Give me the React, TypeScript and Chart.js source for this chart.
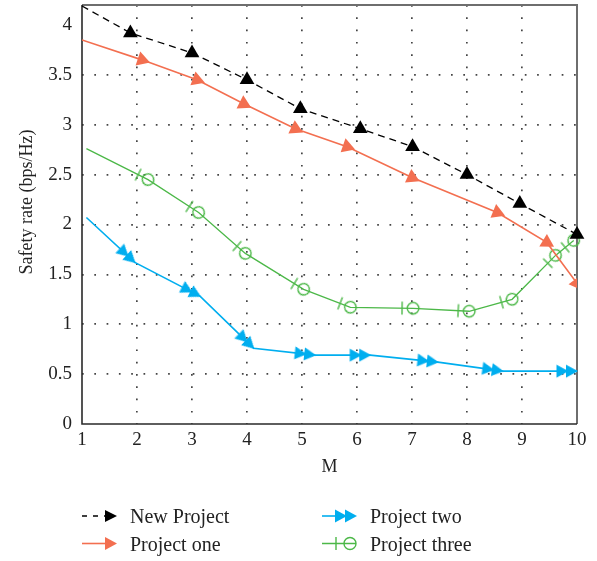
import React, { useEffect, useRef } from 'react';
import { Chart, registerables } from 'chart.js';

Chart.register(...registerables);

const xTicks = [1, 2, 3, 4, 5, 6, 7, 8, 9, 10];
const yTicks = [0, 0.5, 1, 1.5, 2, 2.5, 3, 3.5, 4];
const seriesNames = ['New Project', 'Project one', 'Project two', 'Project three'];

const newProjectX = [1, 1.88, 3, 4, 4.97, 6.06, 7.01, 8, 8.96, 10];
const newProjectY = [4.19, 3.92, 3.72, 3.45, 3.16, 2.96, 2.78, 2.5, 2.21, 1.9];
const projectOneX = [1, 2.09, 3.09, 3.94, 4.88, 5.82, 7.0, 8.55, 9.45, 10];
const projectOneY = [3.85, 3.65, 3.45, 3.21, 2.96, 2.78, 2.47, 2.12, 1.82, 1.41];
const projectTwoX = [1.08, 1.96, 3.15, 4.12, 5.24, 6.24, 7.47, 8.65, 10];
const projectTwoY = [2.07, 1.62, 1.28, 0.76, 0.69, 0.69, 0.62, 0.53, 0.53];
const projectThreeX = [1.08, 2.2, 3.12, 3.97, 5.03, 5.88, 7.02, 8.04, 8.82, 9.61, 9.94];
const projectThreeY = [2.76, 2.45, 2.12, 1.71, 1.35, 1.17, 1.16, 1.13, 1.25, 1.69, 1.84];

const BLACK = '#000000';
const ORANGE = '#F36F50';
const BLUE = '#00AEEF';
const GREEN = '#4CB848';
const FONT = "'Liberation Serif', 'Times New Roman', serif";

function pts(xs: number[], ys: number[]) {
  return xs.map((x, i) => ({ x, y: ys[i] }));
}

function segAngle(ctx: any): number {
  const chart = ctx.chart;
  const data = ctx.dataset.data;
  const i = ctx.dataIndex;
  const xs = chart.scales && chart.scales.x;
  const ys = chart.scales && chart.scales.y;
  if (!xs || !ys || !data || data.length < 2) return 0;
  const a = data[i > 0 ? i - 1 : 0];
  const b = data[i > 0 ? i : 1];
  const dx = xs.getPixelForValue(b.x) - xs.getPixelForValue(a.x);
  const dy = ys.getPixelForValue(b.y) - ys.getPixelForValue(a.y);
  const ang = (Math.atan2(dy, dx) * 180) / Math.PI;
  return isFinite(ang) ? ang : 0;
}

function makeDoubleArrow(color: string) {
  const c = document.createElement('canvas');
  c.width = 44;
  c.height = 18;
  const g = c.getContext('2d')!;
  g.fillStyle = color;
  const cy = 9;
  const tri = (tip: number) => {
    g.beginPath();
    g.moveTo(tip, cy);
    g.lineTo(tip - 12, cy - 6.5);
    g.lineTo(tip - 12, cy + 6.5);
    g.closePath();
    g.fill();
  };
  tri(23);
  tri(13.5);
  return c;
}

function makeTickCircle(color: string) {
  const c = document.createElement('canvas');
  c.width = 38;
  c.height = 20;
  const g = c.getContext('2d')!;
  g.strokeStyle = color;
  g.lineWidth = 1.4;
  g.beginPath();
  g.moveTo(8, 3.5);
  g.lineTo(8, 16.5);
  g.stroke();
  g.beginPath();
  g.arc(19, 10, 5.8, 0, Math.PI * 2);
  g.stroke();
  return c;
}

function triRight(ctx: CanvasRenderingContext2D, tip: number, y: number, len: number, half: number, color: string) {
  ctx.fillStyle = color;
  ctx.beginPath();
  ctx.moveTo(tip, y);
  ctx.lineTo(tip - len, y - half);
  ctx.lineTo(tip - len, y + half);
  ctx.closePath();
  ctx.fill();
}

export default function App() {
  const ref = useRef<HTMLCanvasElement | null>(null);

  useEffect(() => {
    document.body.style.margin = '0';
    const canvas = ref.current;
    if (!canvas) return;
    Chart.defaults.font.family = FONT;
    Chart.defaults.color = '#222';

    const dblArrow = makeDoubleArrow(BLUE);
    const tickCircle = makeTickCircle(GREEN);

    const decor = {
      id: 'decor',
      beforeDatasetsDraw(chart: any) {
        const { ctx, chartArea: a } = chart;
        ctx.save();
        ctx.lineWidth = 2;
        ctx.strokeStyle = '#6e6e6e';
        ctx.beginPath();
        ctx.moveTo(a.left, a.top);
        ctx.lineTo(a.right, a.top);
        ctx.lineTo(a.right, a.bottom);
        ctx.stroke();
        ctx.strokeStyle = '#2a2a2a';
        ctx.lineWidth = 1.6;
        ctx.beginPath();
        ctx.moveTo(a.left, a.top);
        ctx.lineTo(a.left, a.bottom);
        ctx.lineTo(a.right, a.bottom);
        ctx.stroke();
        ctx.restore();
      },
      afterDraw(chart: any) {
        const { ctx, chartArea: a } = chart;
        ctx.save();
        ctx.translate(27, 202);
        ctx.rotate(-Math.PI / 2);
        ctx.font = `18px ${FONT}`;
        ctx.fillStyle = '#222';
        ctx.textAlign = 'center';
        ctx.textBaseline = 'middle';
        ctx.fillText('Safety rate (bps/Hz)', 0, 0);
        ctx.restore();

        ctx.save();
        const c1 = a.left;
        const c2 = a.left + 240;
        const r1 = a.bottom + 92;
        const r2 = a.bottom + 119.5;
        ctx.lineCap = 'butt';
        ctx.strokeStyle = BLACK;
        ctx.lineWidth = 1.3;
        ctx.setLineDash([5, 6]);
        ctx.beginPath();
        ctx.moveTo(c1, r1);
        ctx.lineTo(c1 + 24, r1);
        ctx.stroke();
        ctx.setLineDash([]);
        triRight(ctx, c1 + 35, r1, 12, 6, BLACK);
        ctx.strokeStyle = ORANGE;
        ctx.lineWidth = 1.6;
        ctx.beginPath();
        ctx.moveTo(c1, r2);
        ctx.lineTo(c1 + 26, r2);
        ctx.stroke();
        triRight(ctx, c1 + 35, r2, 12, 6.5, ORANGE);
        ctx.strokeStyle = BLUE;
        ctx.beginPath();
        ctx.moveTo(c2, r1);
        ctx.lineTo(c2 + 30, r1);
        ctx.stroke();
        triRight(ctx, c2 + 25, r1, 12, 6.5, BLUE);
        triRight(ctx, c2 + 35, r1, 12, 6.5, BLUE);
        ctx.strokeStyle = GREEN;
        ctx.lineWidth = 1.4;
        ctx.beginPath();
        ctx.moveTo(c2, r2);
        ctx.lineTo(c2 + 34, r2);
        ctx.stroke();
        ctx.beginPath();
        ctx.moveTo(c2 + 14, r2 - 6.5);
        ctx.lineTo(c2 + 14, r2 + 6.5);
        ctx.stroke();
        ctx.beginPath();
        ctx.arc(c2 + 28, r2, 6, 0, Math.PI * 2);
        ctx.stroke();

        ctx.font = `20px ${FONT}`;
        ctx.fillStyle = '#222';
        ctx.textAlign = 'left';
        ctx.textBaseline = 'alphabetic';
        ctx.fillText(seriesNames[0], c1 + 48, r1 + 7);
        ctx.fillText(seriesNames[1], c1 + 48, r2 + 7);
        ctx.fillText(seriesNames[2], c2 + 48, r1 + 7);
        ctx.fillText(seriesNames[3], c2 + 48, r2 + 7);
        ctx.restore();
      },
    };

    const noFirst = (r: number) => (ctx: any) => (ctx.dataIndex === 0 ? 0 : r);

    const chart = new Chart(canvas, {
      type: 'line',
      data: {
        datasets: [
          {
            label: seriesNames[0],
            data: pts(newProjectX, newProjectY),
            borderColor: BLACK,
            borderWidth: 1.3,
            borderDash: [7, 5],
            pointStyle: 'triangle',
            pointRadius: noFirst(8.5),
            pointBackgroundColor: BLACK,
            pointBorderWidth: 0,
            pointRotation: 0,
            tension: 0,
            clip: false,
          } as any,
          {
            label: seriesNames[1],
            data: pts(projectOneX, projectOneY),
            borderColor: ORANGE,
            borderWidth: 1.6,
            pointStyle: 'triangle',
            pointRadius: noFirst(8.5),
            pointBackgroundColor: ORANGE,
            pointBorderWidth: 0,
            pointRotation: (ctx: any) => segAngle(ctx) + 90,
            tension: 0,
          } as any,
          {
            label: seriesNames[2],
            data: pts(projectTwoX, projectTwoY),
            borderColor: BLUE,
            borderWidth: 1.6,
            pointStyle: dblArrow,
            pointRadius: noFirst(6),
            pointRotation: (ctx: any) => segAngle(ctx),
            tension: 0,
            clip: false,
          } as any,
          {
            label: seriesNames[3],
            data: pts(projectThreeX, projectThreeY),
            borderColor: GREEN,
            borderWidth: 1.3,
            pointStyle: tickCircle,
            pointRadius: noFirst(6),
            pointRotation: (ctx: any) => segAngle(ctx),
            tension: 0,
            clip: false,
          } as any,
        ],
      },
      options: {
        animation: false,
        responsive: false,
        events: [],
        layout: { padding: { left: 0, top: 5, right: 20, bottom: 83 }, autoPadding: false },
        plugins: { legend: { display: false }, tooltip: { enabled: false } },
        scales: {
          x: {
            type: 'linear',
            min: 1,
            max: 10,
            afterBuildTicks: (s: any) => {
              s.ticks = xTicks.map((v) => ({ value: v }));
            },
            afterFit: (s: any) => {
              s.height = 54;
              s.paddingLeft = 0;
              s.paddingRight = 0;
            },
            grid: {
              drawTicks: false,
              lineWidth: 1.7,
              color: (c: any) =>
                c.tick && (c.tick.value === 1 || c.tick.value === 10) ? 'rgba(0,0,0,0)' : '#444',
            },
            border: { display: false, dash: [1.7, 10.6] },
            ticks: { font: { size: 19 }, color: '#222', padding: 5, maxRotation: 0, autoSkip: false },
            title: { display: true, text: 'M', font: { size: 18 }, color: '#222', padding: 0 },
          },
          y: {
            type: 'linear',
            min: 0,
            max: 4.2,
            afterBuildTicks: (s: any) => {
              s.ticks = yTicks.map((v) => ({ value: v }));
            },
            afterFit: (s: any) => {
              s.width = 82;
              s.paddingTop = 0;
              s.paddingBottom = 0;
            },
            grid: {
              drawTicks: false,
              lineWidth: 1.7,
              color: (c: any) =>
                c.tick && (c.tick.value === 0 || c.tick.value === 4) ? 'rgba(0,0,0,0)' : '#444',
            },
            border: { display: false, dash: [1.7, 10.6] },
            ticks: {
              font: { size: 19 },
              color: '#222',
              padding: 10,
              autoSkip: false,
              callback: (v: any) => String(v),
            },
          },
        },
      } as any,
      plugins: [decor],
    });

    return () => chart.destroy();
  }, []);

  return <canvas ref={ref} width={597} height={561} style={{ display: 'block' }} />;
}
